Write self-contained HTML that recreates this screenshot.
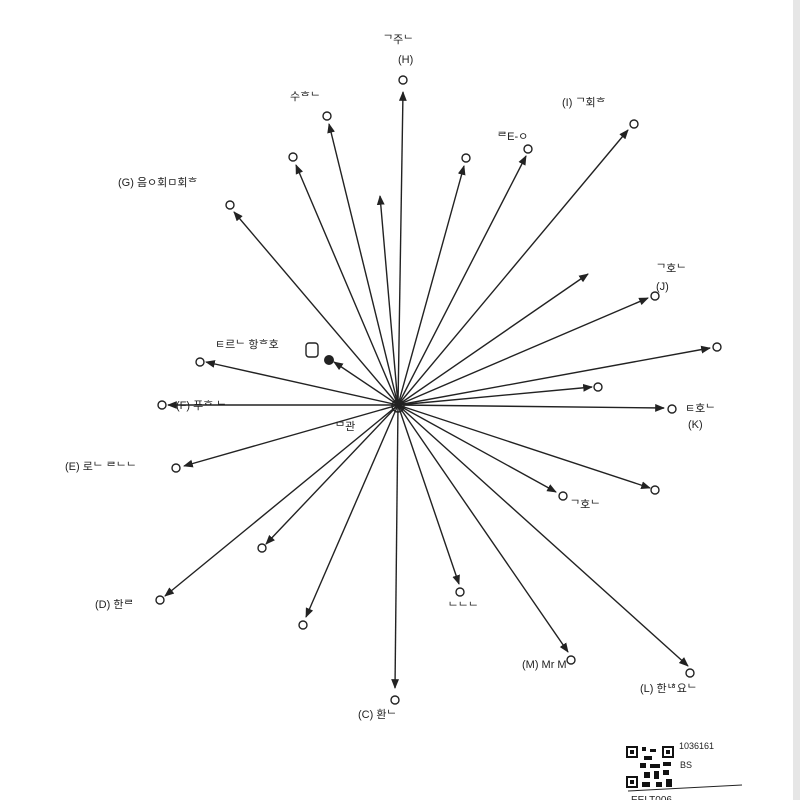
<!DOCTYPE html>
<html><head><meta charset="utf-8"><style>
html,body{margin:0;padding:0;background:#fff;}
svg{display:block}
text{font-family:"Liberation Sans","Noto Sans CJK KR",sans-serif;fill:#222}
</style></head><body>
<svg width="800" height="800" viewBox="0 0 800 800" xmlns="http://www.w3.org/2000/svg">
<defs><marker id="a" viewBox="0 0 10 10" refX="9" refY="5" markerWidth="7" markerHeight="7" orient="auto-start-reverse"><path d="M0,1 L10,5 L0,9 z" fill="#222"/></marker></defs>
<rect x="793" y="0" width="7" height="800" fill="#e6e6e6"/>
<g stroke="#222" stroke-width="1.4" fill="none" marker-end="url(#a)">
<line x1="398" y1="405" x2="403" y2="92"/>
<line x1="398" y1="405" x2="380" y2="196"/>
<line x1="398" y1="405" x2="329" y2="124"/>
<line x1="398" y1="405" x2="296" y2="165"/>
<line x1="398" y1="405" x2="234" y2="212"/>
<line x1="398" y1="405" x2="206" y2="362"/>
<line x1="398" y1="405" x2="334" y2="362"/>
<line x1="398" y1="405" x2="168" y2="405"/>
<line x1="398" y1="405" x2="184" y2="466"/>
<line x1="398" y1="405" x2="266" y2="544"/>
<line x1="398" y1="405" x2="165" y2="596"/>
<line x1="398" y1="405" x2="306" y2="617"/>
<line x1="398" y1="405" x2="395" y2="688"/>
<line x1="398" y1="405" x2="459" y2="584"/>
<line x1="398" y1="405" x2="568" y2="652"/>
<line x1="398" y1="405" x2="688" y2="666"/>
<line x1="398" y1="405" x2="556" y2="492"/>
<line x1="398" y1="405" x2="650" y2="488"/>
<line x1="398" y1="405" x2="664" y2="408"/>
<line x1="398" y1="405" x2="592" y2="387"/>
<line x1="398" y1="405" x2="710" y2="348"/>
<line x1="398" y1="405" x2="648" y2="298"/>
<line x1="398" y1="405" x2="588" y2="274"/>
<line x1="398" y1="405" x2="628" y2="130"/>
<line x1="398" y1="405" x2="526" y2="156"/>
<line x1="398" y1="405" x2="464" y2="166"/>
</g>
<g fill="none" stroke="#222" stroke-width="1.4">
<circle cx="398" cy="406" r="6"/>
<circle cx="403" cy="80" r="4"/><circle cx="327" cy="116" r="4"/><circle cx="293" cy="157" r="4"/>
<circle cx="230" cy="205" r="4"/><circle cx="162" cy="405" r="4"/><circle cx="176" cy="468" r="4"/>
<circle cx="262" cy="548" r="4"/><circle cx="160" cy="600" r="4"/><circle cx="303" cy="625" r="4"/>
<circle cx="395" cy="700" r="4"/><circle cx="460" cy="592" r="4"/><circle cx="571" cy="660" r="4"/>
<circle cx="690" cy="673" r="4"/><circle cx="563" cy="496" r="4"/><circle cx="655" cy="490" r="4"/>
<circle cx="672" cy="409" r="4"/><circle cx="598" cy="387" r="4"/><circle cx="717" cy="347" r="4"/>
<circle cx="655" cy="296" r="4"/><circle cx="634" cy="124" r="4"/><circle cx="466" cy="158" r="4"/>
<circle cx="528" cy="149" r="4"/><circle cx="200" cy="362" r="4"/>
<rect x="306" y="343" width="12" height="14" rx="3"/>
</g>
<circle cx="329" cy="360" r="5" fill="#222"/>
<g font-size="11">
<text x="383" y="43">ᄀ주ᄂ</text><text x="398" y="63">(H)</text>
<text x="290" y="100">수ᄒᄂ</text>
<text x="118" y="186">(G) 음ㅇ회ㅁ회ᄒ</text>
<text x="215" y="348">ㅌ르ᄂ 항ᄒ호</text>
<text x="176" y="409">(F) 푸ᄒ ᄂ</text>
<text x="65" y="470">(E) 로ᄂ ᄅᄂᄂ</text>
<text x="335" y="430">ᄆ관</text>
<text x="95" y="608">(D) 한ᄅ</text>
<text x="358" y="718">(C) 환ᄂ</text>
<text x="448" y="610">ᄂᄂᄂ</text>
<text x="522" y="668">(M) Mr M</text>
<text x="640" y="692">(L) 한ᄂᄒ요ᄂ</text>
<text x="570" y="508">ᄀ호ᄂ</text>
<text x="685" y="412">ㅌ호ᄂ</text><text x="688" y="428">(K)</text>
<text x="656" y="272">ᄀ호ᄂ</text><text x="656" y="290">(J)</text>
<text x="562" y="106">(I) ᄀ회ᄒ</text>
<text x="497" y="140">ᄅE-ㅇ</text>
</g>
<g fill="#111">
<rect x="625" y="745" width="50" height="44" fill="#fff"/>
<rect x="626" y="746" width="12" height="12"/><rect x="628" y="748" width="8" height="8" fill="#fff"/><rect x="630" y="750" width="4" height="4"/>
<rect x="662" y="746" width="12" height="12"/><rect x="664" y="748" width="8" height="8" fill="#fff"/><rect x="666" y="750" width="4" height="4"/>
<rect x="626" y="776" width="12" height="12"/><rect x="628" y="778" width="8" height="8" fill="#fff"/><rect x="630" y="780" width="4" height="4"/>
<rect x="642" y="747" width="4" height="4"/><rect x="650" y="749" width="6" height="3"/><rect x="644" y="756" width="8" height="4"/>
<rect x="640" y="763" width="6" height="5"/><rect x="650" y="764" width="10" height="4"/><rect x="663" y="762" width="8" height="4"/>
<rect x="644" y="772" width="6" height="6"/><rect x="654" y="771" width="5" height="8"/><rect x="663" y="770" width="6" height="5"/>
<rect x="642" y="782" width="8" height="5"/><rect x="656" y="782" width="6" height="5"/><rect x="666" y="779" width="6" height="8"/>
</g>
<text x="679" y="749" font-size="9">1036161</text>
<text x="680" y="768" font-size="9">BS</text>
<line x1="628" y1="791" x2="742" y2="785" stroke="#222" stroke-width="1"/>
<text x="631" y="803" font-size="10">EELT006</text>
</svg>
</body></html>
